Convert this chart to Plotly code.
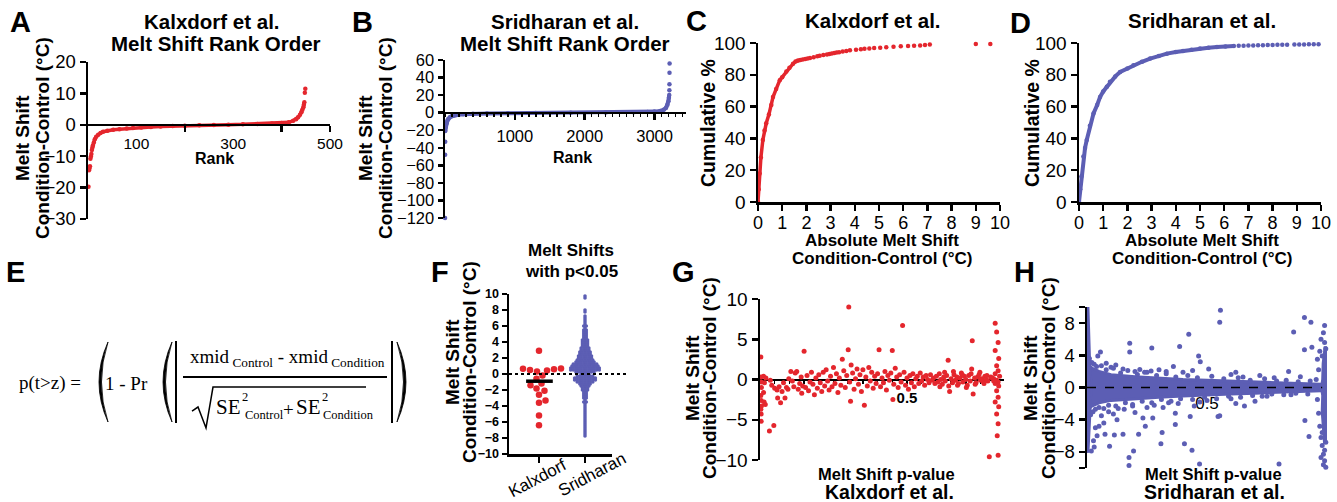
import numpy as np
import plotly.graph_objects as go

W, H = 1337, 502
RED = "#E4262D"
BLUE = "#5C5EB4"
SANS = "Liberation Sans, Arial, sans-serif"
SERIF = "Liberation Serif, Times New Roman, serif"

# ---------------- data ----------------
# A: Kalxdorf rank order
a_tail_rank = [1, 2, 3, 4, 5, 6, 7, 8, 448, 449]
a_tail_shift = [-19.7, -14.5, -13.9, -13.2, -10.8, -10.1, -9.3, -8.0, 10.2, 11.5]
a_rank = [9, 10, 12, 14, 17, 21, 26, 31, 40, 52, 65, 80, 93, 110, 130, 150, 175, 200,
          230, 260, 290, 320, 350, 380, 400, 415, 424, 430, 434, 438, 441, 443, 445, 446, 447]
a_shift = [-7.3, -6.6, -5.6, -4.6, -3.8, -3.2, -2.6, -2.2, -1.9, -1.6, -1.4, -1.2, -1.05, -0.85,
           -0.7, -0.55, -0.4, -0.28, -0.15, -0.05, 0.05, 0.15, 0.28, 0.42, 0.58, 0.8, 1.3, 1.8,
           2.4, 3.2, 4.0, 4.8, 5.6, 6.4, 7.2]

# B: Sridharan rank order
b_tail_rank = [1, 2, 3, 3212, 3213, 3214, 3215]
b_tail_shift = [-120, -48, -33, 25.6, 32.4, 45.4, 56]
b_rank = [4, 8, 14, 24, 35, 48, 70, 95, 130, 167, 260, 400, 600, 900, 1300, 1800, 2300, 2700,
          2900, 3000, 3080, 3130, 3165, 3185, 3198, 3205, 3210]
b_shift = [-21, -17, -14, -12, -9, -7, -5.2, -4.2, -3.3, -2.7, -1.9, -1.3, -0.9, -0.6, -0.35,
           -0.1, 0.2, 0.5, 0.8, 1.2, 2.0, 3.2, 5.5, 9, 13, 17, 20]

# C: Kalxdorf cumulative %
c_line_x = [0, 0.03, 0.07, 0.12, 0.2, 0.27, 0.34, 0.45, 0.55, 0.62, 0.75, 0.9, 1.0, 1.17, 1.3,
            1.45, 1.55, 1.65, 1.75]
c_line_y = [0, 8, 18, 28, 39, 45, 49.5, 55, 61, 66, 71, 76.6, 78.5, 82, 84.5, 87, 88.3, 89, 89.3]
c_dot_x = [1.85, 1.95, 2.05, 2.15, 2.3, 2.45, 2.55, 2.7, 2.85, 2.95, 3.05, 3.15, 3.25, 3.35, 3.5,
           3.65, 3.8, 4.05, 4.25, 4.4, 4.6, 4.8, 5.05, 5.3, 5.6, 5.9, 6.2, 6.45, 6.7, 6.9, 7.1,
           9.0, 9.6]
c_dot_y = [89.6, 89.9, 90.2, 90.5, 91.0, 91.6, 92.0, 92.4, 92.8, 93.1, 93.4, 93.7, 94.0, 94.2,
           94.6, 95.0, 95.4, 95.8, 96.1, 96.4, 96.6, 96.8, 97.0, 97.3, 97.6, 97.9, 98.1, 98.3,
           98.5, 98.7, 99.0, 99.3, 99.4]

# D: Sridharan cumulative %
d_x = [0, 0.05, 0.1, 0.18, 0.25, 0.32, 0.45, 0.6, 0.75, 0.87, 1.0, 1.15, 1.28, 1.5, 1.7, 2.0,
       2.25, 2.6, 2.94, 3.3, 3.63, 4.0, 4.3, 4.65, 5.0, 5.35, 5.7, 6.05, 6.4]
d_y = [0, 8, 16, 28.6, 34, 39, 48, 55.7, 61, 66, 69.5, 72.5, 75.6, 79, 81.8, 84, 86, 88.2, 90.2,
       91.9, 93.3, 94.3, 95, 95.8, 96.5, 97.0, 97.5, 97.8, 98.1]
d_dot_x = [6.6, 6.8, 7.0, 7.2, 7.4, 7.6, 7.8, 8.0, 8.2, 8.4, 8.6, 8.9, 9.1, 9.3, 9.5, 9.7, 9.9]
d_dot_y = [98.2, 98.3, 98.4, 98.5, 98.6, 98.65, 98.7, 98.8, 98.85, 98.9, 98.95, 99.0, 99.05,
           99.1, 99.15, 99.2, 99.2]

# F: melt shifts with p<0.05
f_categories = ["Kalxdorf", "Sridharan"]
f_kalx = [2.9, 0.7, 0.65, 0.6, 0.5, 0.45, 0.3, -0.2, -0.6, -1.2, -1.4, -1.8, -2.1, -2.6, -3.3,
          -3.6, -5.2, -6.4]
f_sri_bins = [-7.75, -7.5, -7.25, -7.0, -6.75, -6.5, -6.25, -6.0, -5.75, -5.5, -5.25, -5.0,
              -4.75, -4.5, -4.25, -4.0, -3.75, -3.5, -3.25, -3.0, -2.75, -2.5, -2.25, -2.0,
              -1.75, -1.5, -1.25, -1.0, -0.75, -0.5, -0.25, 0.0, 0.25, 0.5, 0.75, 1.0, 1.25,
              1.5, 1.75, 2.0, 2.25, 2.5, 2.75, 3.0, 3.25, 3.5, 3.75, 4.0, 4.25, 4.5, 4.75, 5.0,
              5.25, 5.5, 5.75, 6.0, 6.25, 6.5, 6.75, 7.0, 7.25, 7.5, 7.75, 8.0, 8.25, 8.5,
              8.75, 9.0, 9.25, 9.5, 9.75]
f_sri_counts = [1, 1, 1, 1, 1, 1, 1, 1, 1, 1, 1, 1,
                1, 1, 1, 1, 1, 2, 1, 2, 2, 2, 2, 3,
                3, 4, 5, 7, 9, 9, 7, 4, 8, 12, 12, 11, 10,
                8, 7, 6, 6, 5, 5, 4, 4, 3, 3, 3, 3, 2, 2, 2,
                2, 2, 1, 2, 1, 1, 1, 1, 1, 0, 1, 1, 0, 0,
                0, 0, 0, 1, 1]

# G: Kalxdorf shift vs p-value
g_p = [0.003, 0.003, 0.004, 0.005, 0.003, 0.004, 0.005, 0.003, 0.004, 0.004, 0.012, 0.015, 0.012,
       0.014, 0.018, 0.02, 0.032, 0.047,
       0.035, 0.04, 0.05, 0.058, 0.06, 0.065, 0.07, 0.075, 0.08, 0.085, 0.09, 0.095, 0.098,
       0.105, 0.11, 0.115, 0.12, 0.125, 0.13, 0.135, 0.14, 0.142, 0.145, 0.15, 0.155, 0.16, 0.165,
       0.17, 0.175, 0.18, 0.185, 0.19, 0.195, 0.2, 0.205, 0.21, 0.215, 0.22, 0.225, 0.23, 0.235,
       0.24, 0.245, 0.25,
       0.255, 0.26, 0.265, 0.27, 0.275, 0.28, 0.285, 0.29, 0.295, 0.30, 0.302, 0.305, 0.308, 0.31,
       0.315, 0.32, 0.325, 0.33, 0.335, 0.34, 0.345, 0.35, 0.355, 0.36, 0.365, 0.37, 0.375, 0.38,
       0.385, 0.39, 0.395, 0.4, 0.405, 0.41, 0.415, 0.42, 0.425, 0.43, 0.435, 0.44, 0.445,
       0.45, 0.452, 0.455, 0.46, 0.465, 0.47, 0.475, 0.48, 0.485, 0.49, 0.495, 0.5, 0.505, 0.51,
       0.515, 0.52, 0.525, 0.53, 0.535, 0.54, 0.545, 0.55, 0.555, 0.56, 0.565, 0.57, 0.575, 0.58,
       0.585, 0.59, 0.595,
       0.6, 0.605, 0.61, 0.615, 0.62, 0.625, 0.63, 0.635, 0.64, 0.645, 0.65, 0.655, 0.66, 0.665,
       0.67, 0.675, 0.68, 0.685, 0.69, 0.695, 0.7, 0.705, 0.71, 0.715, 0.72, 0.722, 0.725, 0.73,
       0.735, 0.74, 0.745, 0.75, 0.755, 0.76, 0.765, 0.77, 0.775, 0.78,
       0.80, 0.805, 0.81, 0.8, 0.812, 0.805, 0.81, 0.8, 0.815, 0.795, 0.805, 0.81, 0.8, 0.812,
       0.805, 0.81, 0.8, 0.812, 0.805, 0.81, 0.807, 0.81, 0.79, 0.795, 0.785,
       0.612, 0.628, 0.642, 0.658, 0.672, 0.688, 0.702, 0.718, 0.732, 0.748, 0.762, 0.772]
g_v = [2.8, 0.3, -0.3, -1.0, -2.0, -2.6, -3.3, -3.7, -4.3, -5.2, 0.4, -0.4, -1.6,
       -2.8, -3.1, 0.2, -6.4, -5.7,
       -0.1, -0.7, -1.1, -1.3, -2.3, -0.9, -2.9, -1.5, -0.4, -2.3, -1.0, -1.2, 0.1,
       1.0, -0.2, -0.9, 0.8, 1.0, -1.2, -0.5, 0.3, -1.7, -0.8, 3.5, -1.0, 0.5, -1.4,
       -0.3, 0.9, -0.6, -1.9, 0.2, -1.1, 0.6, -0.4, -1.5, 0.9, -0.8, 1.2, -0.2, -1.3,
       0.4, -0.9, 1.5,
       -0.5, 0.7, -1.6, 0.2, -0.7, 2.5, 1.1, -1.0, 0.5, 3.7, 9.0, -0.3, -2.7, 1.8,
       0.8, -1.2, 0.1, 1.3, -0.6, 0.6, -1.5, 1.2, -3.2, 0.3, -0.8, 1.5, -0.2, 0.9,
       -1.1, 0.4, -0.5, 0.7, 3.7, -0.9, 0.2, -0.4, 1.0, -1.3, 0.5, -0.1, 0.8,
       3.6, -2.5, -0.6, 1.4, 0.3, -1.0, 0.6, -0.3, 6.7, 0.9, -0.7, 0.2, -1.2, 0.5,
       -0.4, 0.7, -0.9, 0.1, 0.4, -0.5, 0.8, -0.2, 0.3, -0.7, 0.5, 0.0, -0.4, 0.6,
       -0.1, 0.2, -0.5,
       0.4, -0.3, 0.7, 0.0, -0.6, 0.3, -0.2, 0.5, 2.4, -1.5, 0.1, -0.4, 0.6, -0.1,
       0.3, -0.5, 0.2, 0.8, -0.3, 0.4, 0.0, -0.7, 0.5, -0.2, 1.3, 4.8, -1.8, 0.2,
       -0.4, 0.3, 0.6, -0.1, 0.1, -0.3, 0.4, 0.0, -0.2, -9.6,
       7.0, 5.9, 4.6, 3.6, 2.6, 1.7, 1.1, 0.7, 0.4, 0.1, -0.1, -0.3, -0.5, -0.8,
       -1.4, -2.2, -2.8, -3.4, -4.3, -5.5, -7.0, -9.4, 0.2, -0.2, 0.3,
       -0.9, 0.9, -0.8, 1.0, -0.7, 0.6, -1.0, 0.7, -0.6, 0.9, -0.5, 0.5]

# H: Sridharan shift vs p-value
h_band_p = [0.0, 0.02, 0.05, 0.1, 0.2, 0.3, 0.4, 0.5, 0.6, 0.7, 0.8, 0.9, 0.97]
h_band_hi = [3.0, 2.4, 2.0, 1.6, 1.35, 1.15, 1.0, 0.9, 0.8, 0.7, 0.6, 0.5, 0.4]
h_band_lo = [-2.8, -2.3, -1.9, -1.6, -1.4, -1.2, -1.05, -0.9, -0.8, -0.7, -0.6, -0.5, -0.4]
h_left_v = [-8.1, -6.5, -4.0, -2.0, 0.0, 2.0, 4.0, 6.5, 9.9]
h_left_w = [0.006, 0.008, 0.012, 0.016, 0.018, 0.016, 0.012, 0.008, 0.006]
h_right_v = [-7.0, -5.0, -3.0, -1.0, 0.0, 1.0, 3.0, 5.0]
h_right_l = [0.988, 0.982, 0.978, 0.98, 0.975, 0.98, 0.982, 0.99]
h_p = [0.556, 0.553, 0.178, 0.178, 0.27, 0.386, 0.424, 0.465, 0.472, 0.507, 0.36, 0.906, 0.933,
       0.861, 0.906, 0.937, 0.84, 0.889, 0.056, 0.12, 0.22, 0.267, 0.045, 0.08, 0.1, 0.15, 0.3,
       0.33, 0.4, 0.44, 0.6, 0.65, 0.72, 0.78, 0.62, 0.2, 0.25,
       0.175, 0.175, 0.194, 0.308, 0.313, 0.406, 0.4375, 0.469, 0.8, 0.925, 0.908, 0.546, 0.553,
       0.43, 0.447, 0.368, 0.368, 0.34, 0.274, 0.243, 0.233, 0.215, 0.125, 0.15, 0.114, 0.094,
       0.03, 0.018, 0.042, 0.07, 0.075, 0.155, 0.19, 0.25, 0.317, 0.656, 0.70, 0.06, 0.09, 0.11,
       0.13, 0.2, 0.28, 0.38, 0.5, 0.6, 0.75, 0.85, 0.62, 0.47, 0.035, 0.05, 0.027,
       0.99, 0.985, 0.975, 0.99, 0.995, 0.97, 0.98, 0.96, 0.965, 0.955, 0.96, 0.965, 0.97, 0.975,
       0.98, 0.99, 0.985, 0.975, 0.99, 0.985, 0.995, 0.98, 0.995,
       # ragged edge of the dense band
       0.01, 0.02, 0.03, 0.04, 0.06, 0.08, 0.11, 0.14, 0.17, 0.21, 0.24, 0.29, 0.33, 0.37, 0.42,
       0.46, 0.52, 0.57, 0.63, 0.68, 0.74, 0.79, 0.83, 0.88, 0.93,
       0.015, 0.025, 0.035, 0.05, 0.07, 0.09, 0.12, 0.16, 0.19, 0.23, 0.27, 0.31, 0.35, 0.39,
       0.44, 0.49, 0.54, 0.59, 0.64, 0.69, 0.73, 0.77, 0.82, 0.87, 0.92]
h_v = [9.6, 8.1, 5.5, 4.4, 4.9, 5.1, 6.6, 3.9, 3.2, 2.3, 2.6, 8.7, 8.1,
       6.9, 4.7, 5.0, 2.0, 1.35, 4.4, 2.8, 2.25, 2.05, 3.9, 3.0, 2.5, 2.3, 2.2,
       2.0, 1.9, 2.1, 1.6, 1.3, 1.5, 1.2, 1.9, 2.0, 1.9,
       -8.7, -9.7, -7.9, -7.0, -5.6, -7.0, -7.8, -9.5, -9.5, -6.1, -4.1, -3.6, -3.5,
       -3.6, -2.3, -3.2, -4.6, -1.9, -3.8, -4.8, -3.8, -5.8, -4.0, -5.8, -5.9, -7.3,
       -7.4, -7.9, -6.0, -4.4, -5.8, -2.7, -2.3, -2.5, -2.5, -2.3, -1.7, -3.5, -3.0, -3.3,
       -2.6, -3.1, -2.2, -2.0, -1.6, -1.4, -1.1, -0.9, -2.0, -1.8, -5.0, -4.8, -6.6,
       7.7, 6.8, 6.0, 5.6, 4.8, 4.5, 3.9, 3.5, 2.2, 1.0, -1.5, -3.2, -4.8, -6.2,
       -7.2, -7.8, -8.3, -8.7, -9.1, -9.6, -9.9, -5.6, -6.8,
       3.6, 3.1, 2.9, 2.6, 2.7, 2.2, 2.4, 1.8, 2.1, 1.6, 1.9, 1.5, 1.7, 1.3, 1.5,
       1.2, 1.4, 1.1, 1.2, 0.9, 1.1, 0.8, 0.9, 0.7, 0.8,
       -3.4, -3.0, -2.7, -2.5, -2.6, -2.2, -2.3, -1.9, -2.1, -1.7, -1.9, -1.5, -1.7, -1.4,
       -1.5, -1.2, -1.4, -1.1, -1.2, -1.0, -1.1, -0.8, -0.9, -0.7, -0.8]


# ---------------- helpers (pixel -> paper) ----------------
def X(p):
    return p / W


def Y(p):
    return 1 - p / H


def zero_pos(ydom, yr):
    return ydom[0] + (0 - yr[0]) / (yr[1] - yr[0]) * (ydom[1] - ydom[0])


def font(size, bold=False, family=SANS):
    f = dict(family=family, size=size, color="black")
    if bold:
        f["weight"] = "bold"
    return f


base_axis = dict(showline=True, linecolor="black", linewidth=2.5, ticks="outside",
                 tickcolor="black", tickwidth=2.5, ticklen=6, showgrid=False, zeroline=False,
                 tickfont=font(18), fixedrange=True, automargin=False)


def ax(**kw):
    d = dict(base_axis)
    d.update(kw)
    return d


fig = go.Figure()


def sc(x, y, xa, ya, color, size, mode="markers", lw=0, clip=False):
    fig.add_trace(go.Scatter(x=x, y=y, xaxis=xa, yaxis=ya, mode=mode,
                             marker=dict(color=color, size=size, line=dict(width=0)),
                             line=dict(color=color, width=lw), showlegend=False,
                             hoverinfo="skip", cliponaxis=clip))


# ---- A ----
yA_dom, yA_rng = [Y(219), Y(62)], [-30, 20]
sc(a_rank, a_shift, "x", "y", RED, 4.5, "lines+markers", 3.5)
sc(a_tail_rank, a_tail_shift, "x", "y", RED, 4.5)
# ---- B ----
yB_dom, yB_rng = [Y(218), Y(60)], [-120, 60]
sc(b_rank, b_shift, "x2", "y2", BLUE, 4.5, "lines+markers", 4)
sc(b_tail_rank, b_tail_shift, "x2", "y2", BLUE, 4.5)
# ---- C ----
sc(c_line_x, c_line_y, "x3", "y3", RED, 4.5, "lines+markers", 3.5)
sc(c_dot_x, c_dot_y, "x3", "y3", RED, 4.5)
# ---- D ----
sc(d_x, d_y, "x4", "y4", BLUE, 4.5, "lines+markers", 4)
sc(d_dot_x, d_dot_y, "x4", "y4", BLUE, 4.5)

# ---- F ----
yF_dom, yF_rng = [Y(454), Y(294)], [-10, 10]
xF_rng = [-0.652, 1.587]
px_per_x = (612 - 509) / (xF_rng[1] - xF_rng[0])
px_per_y = (454 - 294) / (yF_rng[1] - yF_rng[0])
# beeswarm for Kalxdorf (layout only)
diam = 6.8
placed = []
for v in sorted(f_kalx):
    yy = v * px_per_y
    best = None
    for k in range(0, 60):
        for s in ([0] if k == 0 else [1, -1]):
            xx = s * k * 0.5
            if all((xx - a) ** 2 + (yy - b) ** 2 >= diam ** 2 for a, b in placed):
                best = xx
                break
        if best is not None:
            break
    placed.append((best, yy))
kx = [0 + a / px_per_x for a, b in placed]
ky = [b / px_per_y for a, b in placed]
sc(kx, ky, "x5", "y5", RED, 6.5)
# rows for Sridharan
sx, sy = [], []
dx = 2.6 / px_per_x
for v, n in zip(f_sri_bins, f_sri_counts):
    for i in range(n):
        sx.append(1 + (i - (n - 1) / 2) * dx)
        sy.append(v)
sc(sx, sy, "x5", "y5", BLUE, 3.6)
kal_median = float(np.median(f_kalx))

# ---- G ----
yG_dom, yG_rng = [Y(460), Y(299)], [-10, 10]
sc(g_p, g_v, "x6", "y6", RED, 5)

# ---- H ----
yH_dom, yH_rng = [Y(468), Y(307)], [-10, 10]
fig.add_trace(go.Scatter(x=h_band_p + h_band_p[::-1], y=h_band_hi + h_band_lo[::-1],
                         xaxis="x7", yaxis="y7", mode="lines", fill="toself",
                         fillcolor=BLUE, line=dict(color=BLUE, width=3), showlegend=False,
                         hoverinfo="skip"))
fig.add_trace(go.Scatter(x=[0] * len(h_left_v) + h_left_w[::-1],
                         y=h_left_v + h_left_v[::-1], xaxis="x7", yaxis="y7", mode="lines",
                         fill="toself", fillcolor=BLUE, line=dict(color=BLUE, width=2),
                         showlegend=False, hoverinfo="skip"))
fig.add_trace(go.Scatter(x=h_right_l + [1.0] * len(h_right_v),
                         y=h_right_v + h_right_v[::-1], xaxis="x7", yaxis="y7", mode="lines",
                         fill="toself", fillcolor=BLUE, line=dict(color=BLUE, width=2),
                         showlegend=False, hoverinfo="skip"))
sc(h_p, h_v, "x7", "y7", BLUE, 5)

# ---------------- axes ----------------
minor_tick = dict(ticks="outside", ticklen=6, tickwidth=2.5, tickcolor="black")
fig.update_layout(
    xaxis=ax(domain=[X(88), X(330)], range=[0, 500], anchor="free",
             position=zero_pos(yA_dom, yA_rng), tickvals=[100, 300, 500], ticklen=0,
             tickfont=font(15.5), ticklabelstandoff=4,
             minor=dict(tickvals=[200, 400, 500], **minor_tick)),
    yaxis=ax(domain=yA_dom, range=yA_rng, tickvals=[-30, -20, -10, 0, 10, 20], anchor="x",
             tickfont=font(18.5)),
    xaxis2=ax(domain=[X(445), X(686)], range=[0, 3450], anchor="free",
              position=zero_pos(yB_dom, yB_rng), tickvals=[1000, 2000, 3000],
              tickfont=font(16.5), ticklabelstandoff=2,
              minor=dict(tickmode="linear", tick0=0, dtick=100, ticks="outside", ticklen=3,
                         tickwidth=1.5, tickcolor="black")),
    yaxis2=ax(domain=yB_dom, range=yB_rng, tickvals=list(range(-120, 61, 20)), anchor="x2",
              tickfont=font(16.5), ticklen=5),
    xaxis3=ax(domain=[X(758), X(1000)], range=[0, 10], tickvals=list(range(11)), anchor="y3",
              tickfont=font(18), ticklabelstandoff=-3),
    yaxis3=ax(domain=[Y(202), Y(43)], range=[0, 100], tickvals=list(range(0, 101, 20)),
              anchor="x3", tickfont=font(19)),
    xaxis4=ax(domain=[X(1079), X(1321)], range=[0, 10], tickvals=list(range(11)), anchor="y4",
              tickfont=font(18), ticklabelstandoff=-3),
    yaxis4=ax(domain=[Y(202), Y(43)], range=[0, 100], tickvals=list(range(0, 101, 20)),
              anchor="x4", tickfont=font(19)),
    xaxis5=ax(domain=[X(509), X(612)], range=xF_rng, tickvals=[0, 1], showticklabels=False,
              anchor="y5"),
    yaxis5=ax(domain=yF_dom, range=yF_rng, tickvals=list(range(-10, 11, 2)), anchor="x5",
              tickfont=font(12.5, True), ticklen=5),
    xaxis6=ax(domain=[X(760), X(1004)], range=[0, 0.83], anchor="free",
              position=zero_pos(yG_dom, yG_rng), tickvals=[0.5], ticklen=0,
              tickfont=font(15, True), layer="below traces", ticklabelstandoff=4,
              minor=dict(tickmode="linear", tick0=0, dtick=0.05, ticks="outside", ticklen=3,
                         tickwidth=1.5, tickcolor="black")),
    yaxis6=ax(domain=yG_dom, range=yG_rng, tickvals=[-10, -5, 0, 5, 10], anchor="x6",
              tickfont=font(19)),
    xaxis7=ax(domain=[X(1087), X(1327)], range=[0, 1], anchor="free",
              position=zero_pos(yH_dom, yH_rng), showline=False, tickvals=[0.5], ticklen=0,
              tickfont=font(17), layer="below traces", ticklabelstandoff=0),
    yaxis7=ax(domain=yH_dom, range=yH_rng, tickvals=[-8, -4, 0, 4, 8], anchor="x7",
              tickfont=font(18.5), minor=dict(tickvals=[-10, 10], **minor_tick)),
)

# ---------------- shapes ----------------
shapes = []
# F dotted zero line and median bar
shapes.append(dict(type="line", xref="paper", yref="y5", x0=X(509), x1=X(626), y0=0, y1=0,
                   line=dict(color="black", width=2, dash="dot")))
shapes.append(dict(type="line", xref="x5", yref="y5", x0=-0.28, x1=0.3, y0=kal_median,
                   y1=kal_median, line=dict(color="black", width=3.5), layer="above"))
# H dashed zero line
shapes.append(dict(type="line", xref="x7", yref="y7", x0=0, x1=0.98, y0=0, y1=0,
                   line=dict(color="black", width=1.3, dash="dash"), layer="above"))


def P(x, y):
    return f"{X(x):.5f},{Y(y):.5f}"


def crescent(xe, xo, xi, y0, y1):
    ym = (y0 + y1) / 2
    return f"M {P(xe, y0)} Q {P(xo, ym)} {P(xe, y1)} Q {P(xi, ym)} {P(xe, y0)} Z"


for path in [crescent(108, 90, 95, 342, 422), crescent(172, 154, 159, 342, 422),
             crescent(397, 415, 410, 342, 422)]:
    shapes.append(dict(type="path", xref="paper", yref="paper", path=path,
                       fillcolor="black", line=dict(color="black", width=0.8)))
for xx in [176, 392]:
    shapes.append(dict(type="line", xref="paper", yref="paper", x0=X(xx), x1=X(xx),
                       y0=Y(341), y1=Y(423), line=dict(color="black", width=2)))
shapes.append(dict(type="line", xref="paper", yref="paper", x0=X(183), x1=X(387), y0=Y(377),
                   y1=Y(377), line=dict(color="black", width=2)))
shapes.append(dict(type="path", xref="paper", yref="paper",
                   path=f"M {P(192, 411)} L {P(198, 407)} L {P(206, 428)} L {P(213, 387)} "
                        f"L {P(366, 387)}",
                   line=dict(color="black", width=1.5)))
fig.update_layout(shapes=shapes)

# ---------------- text ----------------
ann = []


def T(x, y, text, size, bold=False, family=SANS, angle=0, xanchor="center"):
    ann.append(dict(x=X(x), y=Y(y), xref="paper", yref="paper", text=text, showarrow=False,
                    font=font(size, bold, family), textangle=angle, xanchor=xanchor,
                    yanchor="middle"))


# panel letters
for letter, x, y in [("A", 20, 22), ("B", 362, 22), ("C", 696, 21), ("D", 1020, 23),
                     ("E", 15, 272), ("F", 440, 272), ("G", 683, 272), ("H", 1024, 272)]:
    T(x, y, letter, 29, True)
# titles
T(212, 22, "Kalxdorf et al.", 20.5, True)
T(216, 43, "Melt Shift Rank Order", 20.5, True)
T(565, 22, "Sridharan et al.", 20.5, True)
T(565, 43, "Melt Shift Rank Order", 20.5, True)
T(873, 21, "Kalxdorf et al.", 20.5, True)
T(1202, 21, "Sridharan et al.", 20.5, True)
# y titles
for x1, x2, yc in [(22, 42, 138), (365, 385, 138), (452, 469, 362), (692, 709, 378),
                   (1030, 1048, 378)]:
    T(x1, yc, "Melt Shift", 19, True, angle=-90)
    T(x2, yc, "Condition-Control (°C)", 19, True, angle=-90)
T(708, 123, "Cumulative %", 19.5, True, angle=-90)
T(1032, 123, "Cumulative %", 19.5, True, angle=-90)
# x titles
T(214, 159, "Rank", 16, True)
T(572, 158, "Rank", 16, True)
for xc in [882, 1202]:
    T(xc, 240, "Absolute Melt Shift", 17, True)
    T(xc, 258, "Condition-Control (°C)", 17, True)
T(571, 250, "Melt Shifts", 17, True)
T(571, 271, "with p&lt;0.05", 17, True)
T(537, 478, f_categories[0], 17, angle=-28)
T(592, 474, f_categories[1], 17, angle=-28)
T(886, 474, "Melt Shift p-value", 16.5, True)
T(890, 492, "Kalxdorf et al.", 19.5, True)
T(1213, 474, "Melt Shift p-value", 16.5, True)
T(1214, 492, "Sridharan et al.", 19.5, True)
# formula (E)
T(50, 383, "p(t&gt;z) =", 19, family=SERIF)
T(127, 383, "1 - Pr", 19, family=SERIF)
T(287, 358, "xmid<sub> Control</sub> - xmid<sub> Condition</sub>", 19, family=SERIF)
T(228, 407, "SE", 21, family=SERIF)
T(245, 397, "2", 12.5, family=SERIF)
T(243, 415, "Control", 12.5, family=SERIF, xanchor="left")
T(288, 409, "+", 19, family=SERIF)
T(308, 407, "SE", 21, family=SERIF)
T(325, 397, "2", 12.5, family=SERIF)
T(321, 415, "Condition", 12.5, family=SERIF, xanchor="left")

fig.update_layout(template="none", annotations=ann, width=W, height=H,
                  margin=dict(l=0, r=0, t=0, b=0, pad=0, autoexpand=False),
                  paper_bgcolor="white", plot_bgcolor="white", showlegend=False)

fig.write_html("out.html", config={"displayModeBar": False, "staticPlot": True},
               post_script="document.body.style.margin='0';"
                           "document.body.style.overflow='hidden';")
